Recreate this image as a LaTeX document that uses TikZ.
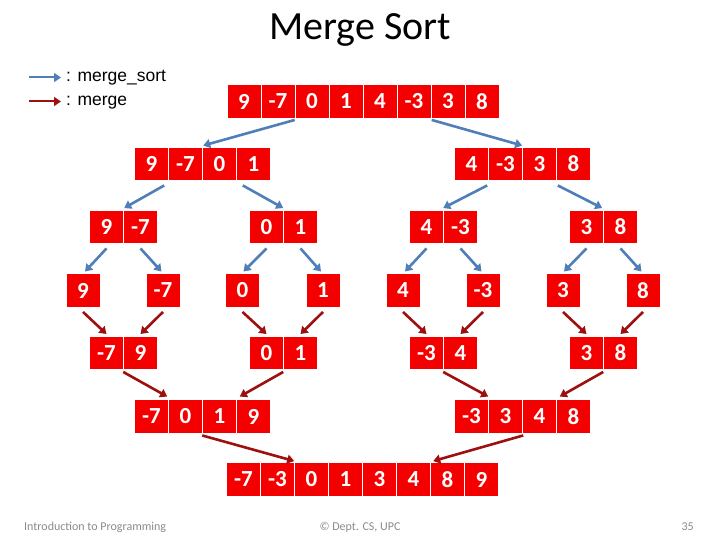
\documentclass[tikz,border=0pt]{standalone}
\usepackage{fontspec}
\setmainfont{Carlito}
\newfontfamily\arialfont{Liberation Sans}
\usepackage{tikz}
\usetikzlibrary{arrows.meta,positioning,calc}
\usepackage{xcolor}
\definecolor{cellred}{HTML}{F50000}
\definecolor{sortblue}{HTML}{4F7FB8}
\definecolor{mergered}{HTML}{9E1010}
\definecolor{footgray}{HTML}{8A8A8A}

% one array = a row of cells, named <name>-1, <name>-2, ...
\newcommand{\cellrow}[4]{%
  \foreach \v [count=\i] in {#4}
    \node[cell] (#1-\i) at ({#2+34*(\i-1)},#3) {\v};%
}

\begin{document}
\begin{tikzpicture}[
  x=1pt, y=-1pt,
  cell/.style={fill=cellred, text=white, font=\bfseries\fontsize{23}{23}\selectfont,
    minimum width=33pt, minimum height=32.5pt, inner sep=0pt},
  msort/.style={draw=sortblue, line width=2.6pt, -{Triangle[length=7pt,width=9pt]}},
  mrg/.style={msort, draw=mergered},
  legend/.style={font=\arialfont\fontsize{17.5}{20}\selectfont, inner sep=0pt},
  foot/.style={font=\fontsize{12}{14}\selectfont, text=footgray, inner sep=0pt}
]
\useasboundingbox (0,0) rectangle (720,540);

\node[anchor=base, font=\fontsize{40}{44}\selectfont, inner sep=0pt] (title) at (360,40) {Merge Sort};

% legend
\coordinate (k1) at (29,77.5);
\coordinate (k2) at (29,101.5);
\node[legend, anchor=base west] (lk1) at (66,82) {: merge\_sort};
\node[legend, anchor=base west] (lk2) at (66,106) {: merge};
\draw[msort, line width=2pt, shorten >=5pt] (k1) -- (k1 -| lk1.west);
\draw[mrg, line width=2pt, shorten >=5pt] (k2) -- (k2 -| lk2.west);

% arrays
\cellrow{top}{244}{101.5}{9,-7,0,1,4,-3,3,8}
\cellrow{L}{151.5}{164}{9,-7,0,1}
\cellrow{R}{471.5}{164}{4,-3,3,8}
\cellrow{LL}{106.5}{227}{9,-7}
\cellrow{LR}{266.5}{227}{0,1}
\cellrow{RL}{426.5}{227}{4,-3}
\cellrow{RR}{586.5}{227}{3,8}
\cellrow{a}{83}{290.5}{9}
\cellrow{b}{163}{290.5}{-7}
\cellrow{c}{242.5}{290.5}{0}
\cellrow{d}{323}{290.5}{1}
\cellrow{e}{403}{290.5}{4}
\cellrow{f}{483}{290.5}{-3}
\cellrow{g}{563}{290.5}{3}
\cellrow{h}{643}{290.5}{8}
\cellrow{mLL}{106.5}{353}{-7,9}
\cellrow{mLR}{266.5}{353}{0,1}
\cellrow{mRL}{426.5}{353}{-3,4}
\cellrow{mRR}{586.5}{353}{3,8}
\cellrow{mL}{151.5}{416.5}{-7,0,1,9}
\cellrow{mR}{471.5}{416.5}{-3,3,4,8}
\cellrow{res}{243.5}{479.5}{-7,-3,0,1,3,4,8,9}

% merge_sort calls
\draw[msort] ([yshift=-2pt]top-2.south east) -- ([xshift=1pt,yshift=2pt]L-2.north east);
\draw[msort] ([xshift=1pt,yshift=-2pt]top-6.south east) -- ([yshift=2pt]R-2.north east);
\draw[msort] ([xshift=-4pt,yshift=-5pt]L-1.south east) -- ([xshift=1pt,yshift=2.5pt]LL-1.north east);
\draw[msort] ([xshift=6pt,yshift=-5pt]L-4.south west) -- ([yshift=2.5pt]LR-1.north east);
\draw[msort] ([xshift=-1pt,yshift=-5pt]R-1.south east) -- ([yshift=2.5pt]RL-1.north east);
\draw[msort] ([xshift=1pt,yshift=-5pt]R-4.south west) -- ([xshift=-1pt,yshift=2.5pt]RR-1.north east);
\foreach \p/\c/\dx in {LL-1/a/2, LL-2/b/-1.5, LR-1/c/1, LR-2/d/-2,
                       RL-1/e/2, RL-2/f/-1.5, RR-1/g/1, RR-2/h/-1.5}
  \draw[msort] ([yshift=-5pt]\p.south) -- ([xshift=\dx pt,yshift=2.5pt]\c-1.north);

% merges
\foreach \c/\p in {a/mLL-1, b/mLL-2, c/mLR-1, d/mLR-2,
                   e/mRL-1, f/mRL-2, g/mRR-1, h/mRR-2}
  \draw[mrg] ([yshift=-5pt]\c-1.south) -- ([yshift=2.5pt]\p.north);
\draw[mrg] ([yshift=-2.5pt]mLL-1.south east) -- ([xshift=-1pt,yshift=3.5pt]mL-1.north east);
\draw[mrg] ([yshift=-2.5pt]mLR-1.south east) -- ([xshift=3pt,yshift=3.5pt]mL-4.north west);
\draw[mrg] ([yshift=-2.5pt]mRL-1.south east) -- ([yshift=3.5pt]mR-1.north east);
\draw[mrg] ([yshift=-2.5pt]mRR-1.south east) -- ([xshift=3pt,yshift=3.5pt]mR-4.north west);
\draw[mrg] ([yshift=-2.5pt]mL-2.south east) -- ([yshift=2pt]res-2.north east);
\draw[mrg] ([xshift=1pt,yshift=-2.5pt]mR-2.south east) -- ([xshift=3pt,yshift=2pt]res-6.north east);

% footer
\node[foot, anchor=base west] (f1) at (24,530) {Introduction to Programming};
\node[foot, anchor=base] (f2) at (360,530) {© Dept. CS, UPC};
\node[foot, anchor=base east] (f3) at (694,530) {35};
\end{tikzpicture}
\end{document}
